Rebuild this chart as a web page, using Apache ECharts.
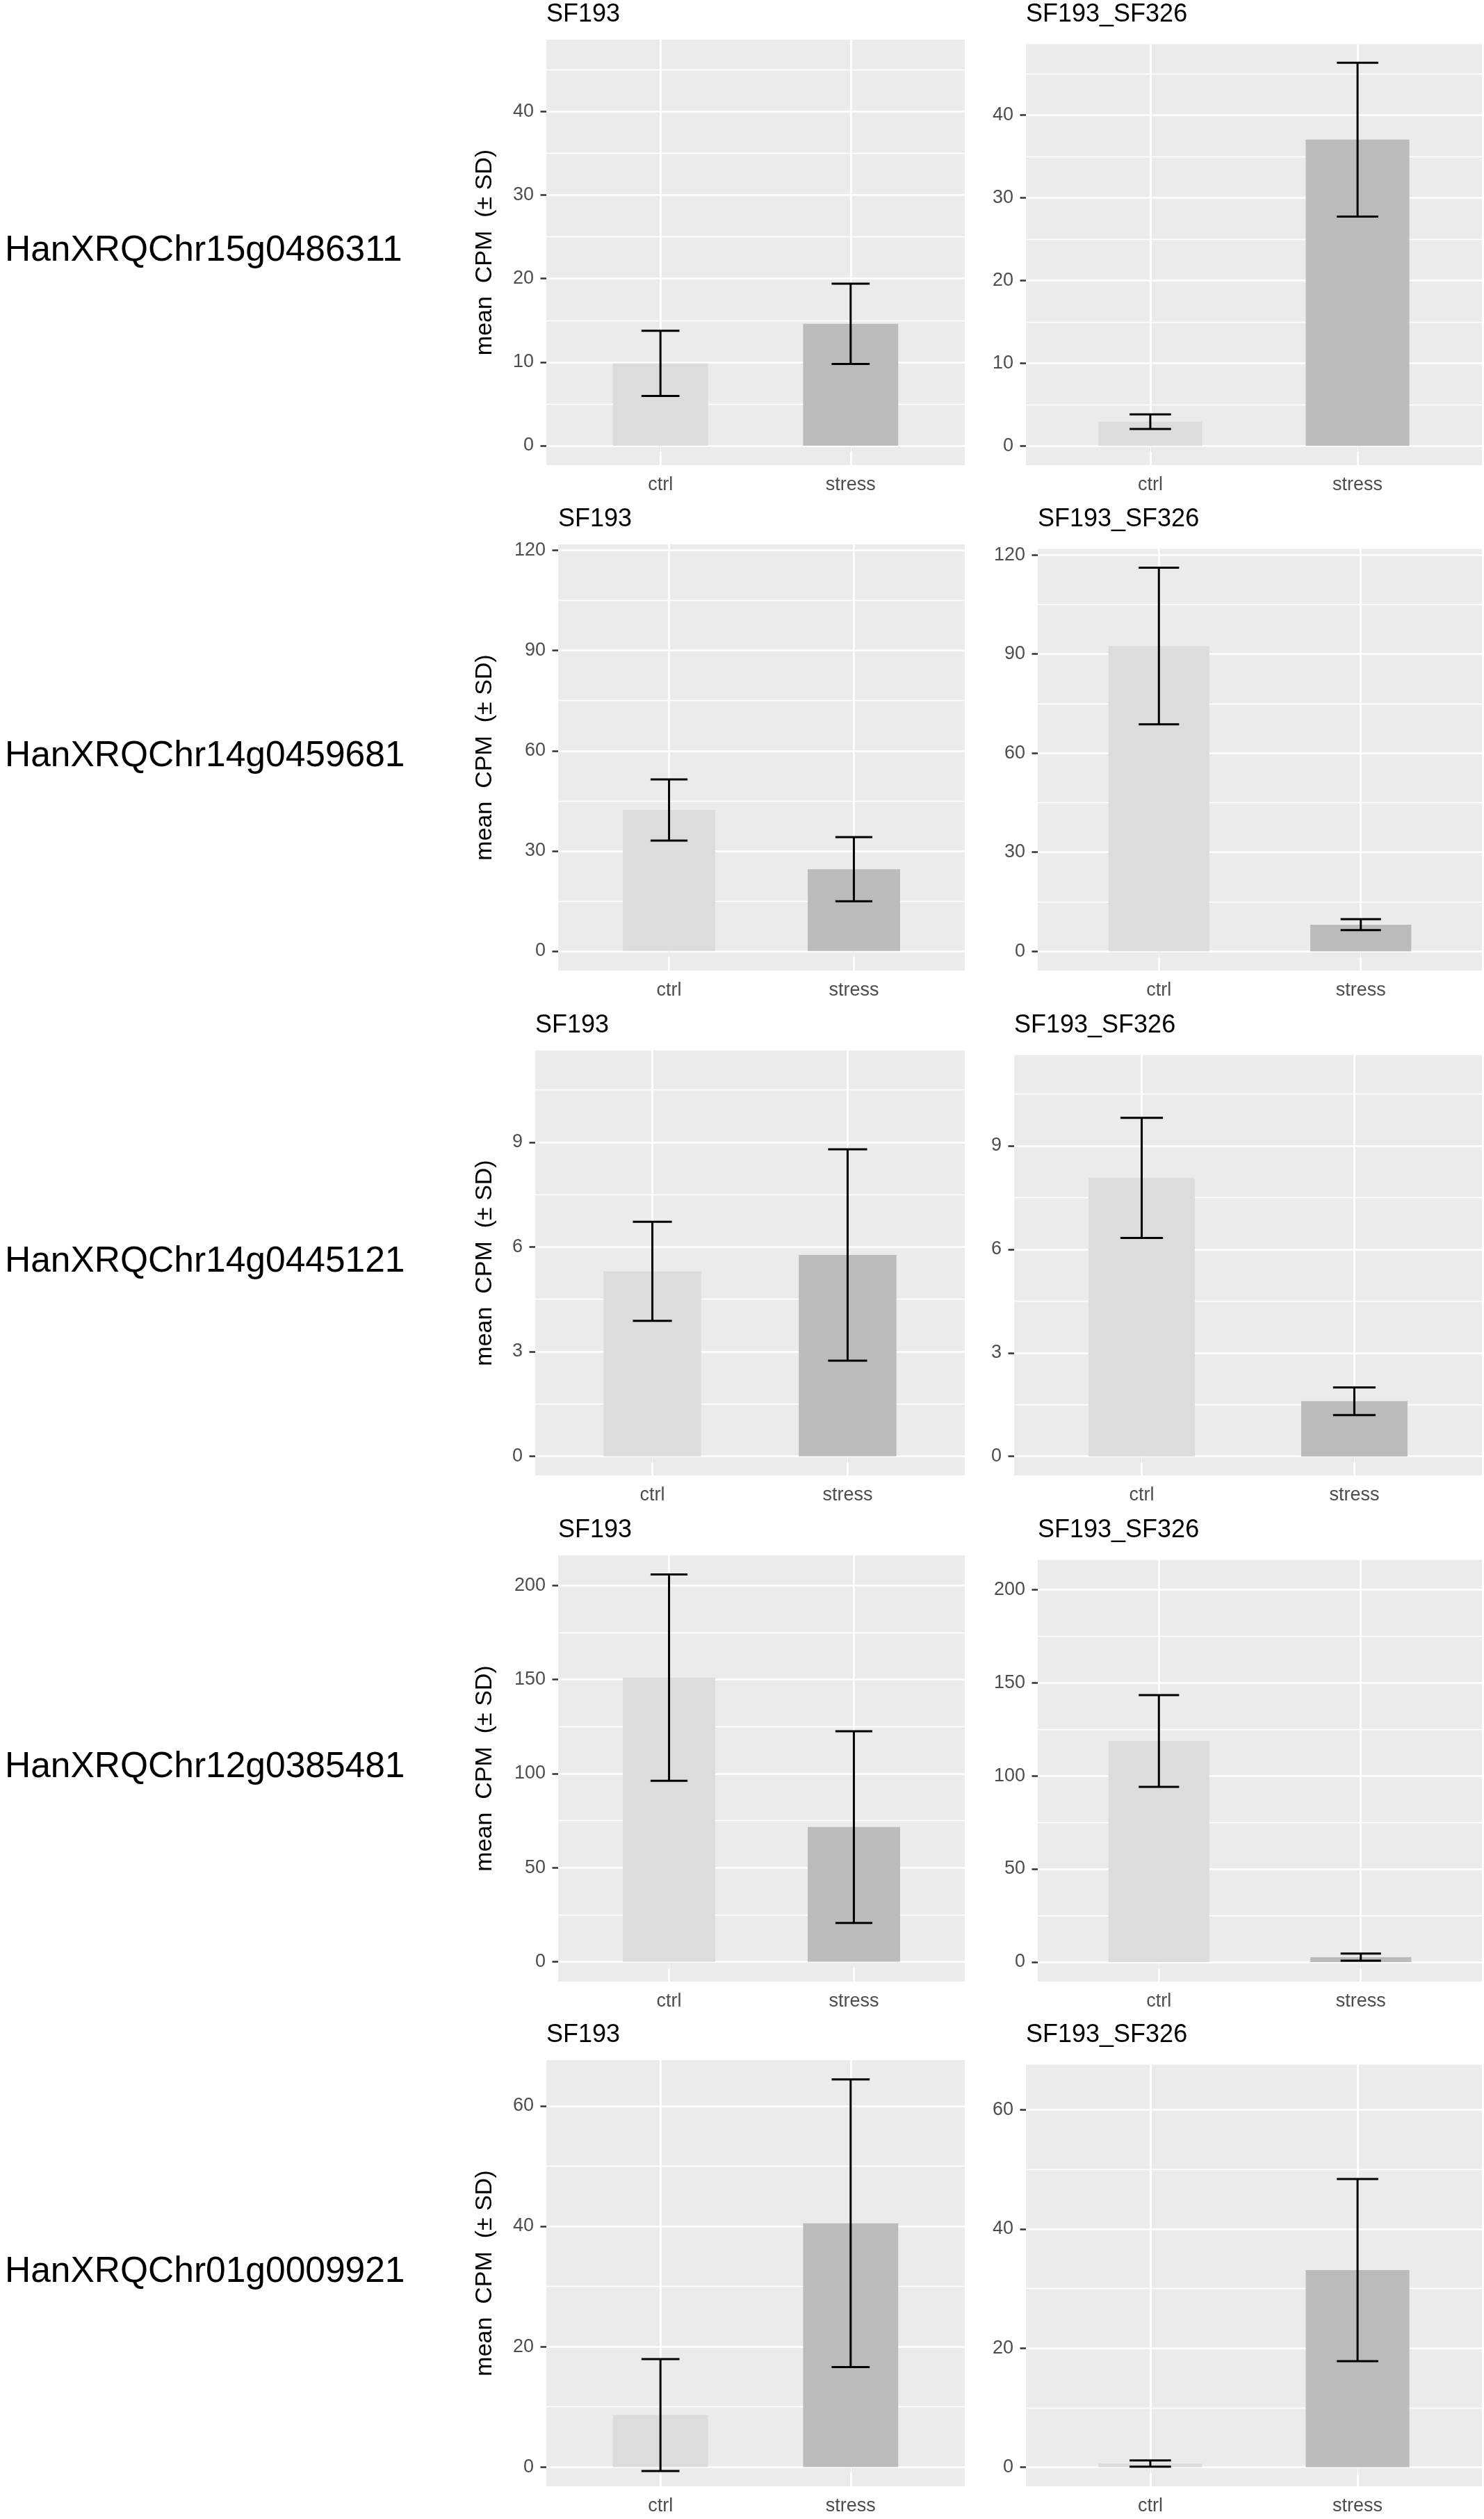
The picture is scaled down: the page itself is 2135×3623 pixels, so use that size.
<!DOCTYPE html>
<html>
<head>
<meta charset="utf-8">
<script src="https://cdn.jsdelivr.net/npm/echarts@6/dist/echarts.min.js"></script>
<style>
  html, body { margin: 0; padding: 0; background: #ffffff; }
  #chart { width: 2135px; height: 3623px; }
</style>
</head>
<body>
<div id="chart"></div>
<script>
// ---------------- DATA ----------------
const genes = ['HanXRQChr15g0486311', 'HanXRQChr14g0459681', 'HanXRQChr14g0445121', 'HanXRQChr12g0385481', 'HanXRQChr01g0009921'];
const groups = ['SF193', 'SF193_SF326'];
const conditions = ['ctrl', 'stress'];

// mean CPM [ctrl, stress] per gene
const meanSF193 = [[9.85, 14.58], [42.25, 24.5], [5.3, 5.77], [151.0, 71.6], [8.65, 40.5]];
const sdSF193 = [[3.9, 4.8], [9.15, 9.6], [1.42, 3.03], [54.85, 50.95], [9.3, 23.9]];
const meanSF326 = [[2.92, 37.05], [92.4, 8.05], [8.07, 1.6], [118.75, 2.6], [0.62, 33.1]];
const sdSF326 = [[0.88, 9.3], [23.7, 1.65], [1.74, 0.4], [24.65, 1.9], [0.52, 15.3]];

// y axis ticks and visible range per gene row
const yTicks = [[0, 10, 20, 30, 40], [0, 30, 60, 90, 120], [0, 3, 6, 9], [0, 50, 100, 150, 200], [0, 20, 40, 60]];
const yMin = [-2.33, -5.86, -0.55, -10.5, -3.2];
const yMax = [48.6, 121.8, 11.63, 216.0, 67.6];

// ---------------- LAYOUT ----------------
const FONT = "'Liberation Sans', Arial, Helvetica, sans-serif";
const panelTop = [57, 783, 1511, 2237, 2963];
const panelBottom = [669, 1396, 2122, 2850, 3576];
const leftPanelX = [786, 803, 770, 803, 786];
const rightPanelX = [1476, 1493, 1459, 1493, 1476];
const leftPanelRight = 1388;
const rightPanelRight = 2132;
const rightTopShift = 6.5;
const yTitleX = 698;

const means = [meanSF193, meanSF326];
const sds = [sdSF193, sdSF326];
const barColors = ['#DCDCDC', '#BBBBBB'];

const grids = [], xAxes = [], yAxes = [], series = [], graphics = [];

for (let i = 0; i < genes.length; i++) {
  for (let j = 0; j < groups.length; j++) {
    const k = i * 2 + j;
    const left = j === 0 ? leftPanelX[i] : rightPanelX[i];
    const right = j === 0 ? leftPanelRight : rightPanelRight;
    const top = panelTop[i] + (j === 0 ? 0 : rightTopShift);
    const bottom = panelBottom[i];
    const width = right - left;
    const height = bottom - top;

    grids.push({
      left: left, top: top, width: width, height: height,
      show: true, backgroundColor: '#EBEBEB', borderWidth: 0
    });

    xAxes.push({
      gridIndex: k, type: 'value', min: 0.4, max: 2.6,
      axisLine: { show: false },
      splitLine: { show: false },
      axisTick: { show: true, customValues: [1, 2], length: 8.5, lineStyle: { color: '#333333', width: 2.5 } },
      axisLabel: {
        show: true, customValues: [1, 2],
        formatter: function (v) { return conditions[Math.round(v) - 1] || ''; },
        color: '#4D4D4D', fontSize: 27, fontFamily: FONT, margin: 15
      }
    });

    yAxes.push({
      gridIndex: k, type: 'value', min: yMin[i], max: yMax[i],
      axisLine: { show: false },
      splitLine: { show: false },
      axisTick: { show: true, customValues: yTicks[i], length: 8.5, lineStyle: { color: '#333333', width: 2.5 } },
      axisLabel: {
        show: true, customValues: yTicks[i],
        color: '#4D4D4D', fontSize: 27, fontFamily: FONT, margin: 18
      }
    });

    // grid lines (drawn as marker lines on a helper series, below the bars)
    const ticks = yTicks[i];
    const step = ticks[1] - ticks[0];
    const minor = [];
    for (let t = ticks[0] - step / 2; t <= yMax[i]; t += step) {
      if (t >= yMin[i]) minor.push(t);
    }
    const lines = [];
    minor.forEach(v => lines.push({ yAxis: v, lineStyle: { color: '#FFFFFF', width: 1.3, type: 'solid' } }));
    ticks.forEach(v => lines.push({ yAxis: v, lineStyle: { color: '#FFFFFF', width: 2.7, type: 'solid' } }));
    [1, 2].forEach(v => lines.push({ xAxis: v, lineStyle: { color: '#FFFFFF', width: 2.7, type: 'solid' } }));

    series.push({
      type: 'scatter', xAxisIndex: k, yAxisIndex: k, data: [], z: 1, silent: true,
      markLine: {
        z: 1, silent: true, symbol: ['none', 'none'], label: { show: false },
        emphasis: { disabled: true }, animation: false, data: lines
      }
    });

    const m = means[j][i];
    const s = sds[j][i];

    series.push({
      type: 'bar', xAxisIndex: k, yAxisIndex: k, z: 3, silent: true,
      barWidth: 0.5 / 2.2 * width,
      data: conditions.map((c, ci) => ({ value: [ci + 1, m[ci]], itemStyle: { color: barColors[ci] } }))
    });

    series.push({
      type: 'custom', xAxisIndex: k, yAxisIndex: k, z: 6, silent: true,
      encode: { x: 0, y: [1, 2] },
      data: conditions.map((c, ci) => [ci + 1, m[ci] - s[ci], m[ci] + s[ci]]),
      renderItem: function (params, api) {
        const x = api.value(0), lo = api.value(1), hi = api.value(2);
        const t = api.coord([x, hi]), b = api.coord([x, lo]);
        const tl = api.coord([x - 0.1, hi]), tr = api.coord([x + 0.1, hi]);
        const bl = api.coord([x - 0.1, lo]), br = api.coord([x + 0.1, lo]);
        const st = { stroke: '#000000', lineWidth: 3 };
        return {
          type: 'group',
          children: [
            { type: 'line', shape: { x1: t[0], y1: t[1], x2: b[0], y2: b[1] }, style: st },
            { type: 'line', shape: { x1: tl[0], y1: tl[1], x2: tr[0], y2: tr[1] }, style: st },
            { type: 'line', shape: { x1: bl[0], y1: bl[1], x2: br[0], y2: br[1] }, style: st }
          ]
        };
      }
    });

    // panel title
    graphics.push({
      type: 'text', x: left, y: panelTop[i] - 36,
      style: { text: groups[j], font: '36px ' + FONT, fill: '#000000', textAlign: 'left', textVerticalAlign: 'middle' }
    });
  }

  // y axis title for the left plot
  graphics.push({
    type: 'text', x: yTitleX, y: (panelTop[i] + panelBottom[i]) / 2, rotation: Math.PI / 2,
    style: { text: 'mean  CPM  (\u00B1 SD)', font: '34px ' + FONT, fill: '#000000', textAlign: 'center', textVerticalAlign: 'middle' }
  });

  // gene label
  graphics.push({
    type: 'text', x: 7, y: (panelTop[i] + panelBottom[i]) / 2 - 2,
    style: { text: genes[i], font: '51.5px ' + FONT, fill: '#000000', textAlign: 'left', textVerticalAlign: 'middle' }
  });
}

const chart = echarts.init(document.getElementById('chart'), null, { renderer: 'canvas' });
chart.setOption({
  animation: false,
  backgroundColor: '#FFFFFF',
  grid: grids,
  xAxis: xAxes,
  yAxis: yAxes,
  series: series,
  graphic: graphics
});
</script>
</body>
</html>
